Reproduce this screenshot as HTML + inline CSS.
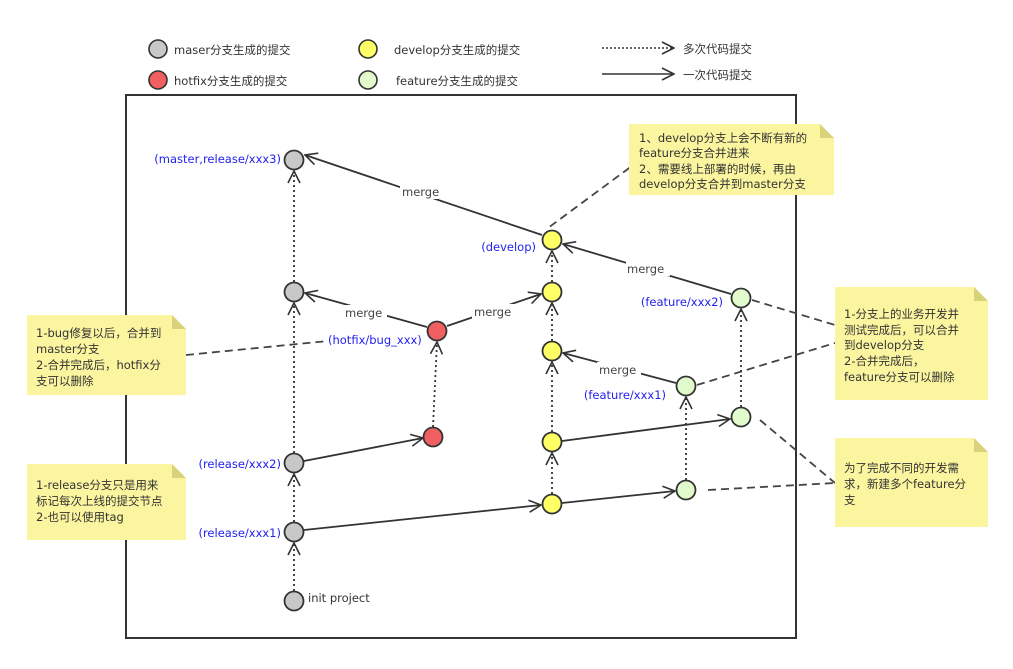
<!DOCTYPE html>
<html><head><meta charset="utf-8"><style>
body{margin:0;background:#fff;}
svg{display:block;font-family:"DejaVu Sans","Noto Sans CJK SC",sans-serif;}
.b{fill:#2222ee;font-size:11.5px;}
.t{fill:#333;font-size:11.5px;}
.m{fill:#444;font-size:11.5px;}
</style></head><body>
<svg width="1013" height="669" viewBox="0 0 1013 669">
<defs>
<marker id="a" markerWidth="14" markerHeight="14" refX="13" refY="7" orient="auto" markerUnits="userSpaceOnUse">
<path d="M1,1 L13,7 L1,13" fill="none" stroke="#333" stroke-width="1.6"/></marker>
</defs>
<circle cx="158" cy="49" r="9" fill="#c8c8c8" stroke="#333" stroke-width="1.6"/>
<circle cx="158" cy="80" r="9" fill="#f06060" stroke="#333" stroke-width="1.6"/>
<circle cx="368" cy="49" r="9" fill="#ffff66" stroke="#333" stroke-width="1.6"/>
<circle cx="368" cy="80" r="9" fill="#e2fbcc" stroke="#333" stroke-width="1.6"/>
<text x="174" y="54" class="t">maser分支生成的提交</text>
<text x="174" y="85" class="t">hotfix分支生成的提交</text>
<text x="394" y="54" class="t">develop分支生成的提交</text>
<text x="396" y="85" class="t">feature分支生成的提交</text>
<line x1="602" y1="48" x2="674" y2="48" stroke="#333" stroke-width="1.6" stroke-dasharray="2,2" marker-end="url(#a)"/>
<line x1="602" y1="74" x2="674" y2="74" stroke="#333" stroke-width="1.6" marker-end="url(#a)"/>
<text x="683" y="53" class="t">多次代码提交</text>
<text x="683" y="79" class="t">一次代码提交</text>
<rect x="126" y="95" width="670" height="543" fill="none" stroke="#333" stroke-width="2"/>
<g stroke="#444" stroke-width="1.8" stroke-dasharray="8,5" fill="none">
<line x1="186" y1="355" x2="328" y2="341"/>
<line x1="640" y1="160" x2="548" y2="228"/>
<line x1="752" y1="300" x2="835" y2="325"/>
<line x1="697" y1="385" x2="835" y2="343"/>
<line x1="760" y1="420" x2="835" y2="483"/>
<line x1="708" y1="490" x2="835" y2="483"/>
</g>
<g stroke="#333" stroke-width="1.8" stroke-dasharray="2,3" fill="none" marker-end="url(#a)">
<line x1="294" y1="591" x2="294" y2="543"/>
<line x1="294" y1="522" x2="294" y2="474"/>
<line x1="294" y1="453" x2="294" y2="303"/>
<line x1="294" y1="282" x2="294" y2="171"/>
<line x1="433" y1="427" x2="437" y2="342"/>
<line x1="552" y1="494" x2="552" y2="453"/>
<line x1="552" y1="432" x2="552" y2="362"/>
<line x1="552" y1="341" x2="552" y2="303"/>
<line x1="552" y1="282" x2="552" y2="251"/>
<line x1="686" y1="480" x2="686" y2="397"/>
<line x1="741" y1="407" x2="741" y2="309"/>
</g>
<g stroke="#333" stroke-width="1.8" fill="none" marker-end="url(#a)">
<line x1="304" y1="530" x2="541" y2="505"/>
<line x1="304" y1="461" x2="423" y2="438"/>
<line x1="427" y1="327" x2="305" y2="293"/>
<line x1="447" y1="326" x2="541" y2="294"/>
<line x1="542" y1="235" x2="305" y2="155"/>
<line x1="562" y1="441" x2="730" y2="419"/>
<line x1="562" y1="503" x2="675" y2="491"/>
<line x1="676" y1="383" x2="563" y2="353"/>
<line x1="731" y1="294" x2="563" y2="244"/>
</g>
<g class="m">
<rect x="400" y="184" width="46" height="15" fill="#fff"/><text x="402" y="196">merge</text>
<rect x="343" y="305" width="44" height="15" fill="#fff"/><text x="345" y="317">merge</text>
<rect x="472" y="304" width="44" height="15" fill="#fff"/><text x="474" y="316">merge</text>
<rect x="597" y="362" width="44" height="15" fill="#fff"/><text x="599" y="374">merge</text>
<rect x="626" y="261" width="44" height="15" fill="#fff"/><text x="627" y="273">merge</text>
</g>
<g stroke="#333" stroke-width="1.8">
<g fill="#c8c8c8"><circle cx="294" cy="160" r="9.5"/><circle cx="294" cy="292" r="9.5"/><circle cx="294" cy="463" r="9.5"/><circle cx="294" cy="532" r="9.5"/><circle cx="294" cy="601" r="9.5"/></g>
<g fill="#f06060"><circle cx="437" cy="331" r="9.5"/><circle cx="433" cy="437" r="9.5"/></g>
<g fill="#ffff66"><circle cx="552" cy="240" r="9.5"/><circle cx="552" cy="292" r="9.5"/><circle cx="552" cy="351" r="9.5"/><circle cx="552" cy="442" r="9.5"/><circle cx="552" cy="504" r="9.5"/></g>
<g fill="#e2fbcc"><circle cx="686" cy="386" r="9.5"/><circle cx="686" cy="490" r="9.5"/><circle cx="741" cy="298" r="9.5"/><circle cx="741" cy="417" r="9.5"/></g>
</g>
<g class="b">
<text x="281" y="163" text-anchor="end">(master,release/xxx3)</text>
<text x="536" y="251" text-anchor="end">(develop)</text>
<text x="328" y="344">(hotfix/bug_xxx)</text>
<text x="281" y="468" text-anchor="end">(release/xxx2)</text>
<text x="281" y="537" text-anchor="end">(release/xxx1)</text>
<text x="723" y="306" text-anchor="end">(feature/xxx2)</text>
<text x="666" y="399" text-anchor="end">(feature/xxx1)</text>
</g>
<text x="308" y="602" class="t">init project</text>
<g fill="#fbf5a0">
<path d="M27,315 H172 L186,329 V395 H27Z"/>
<path d="M27,464 H172 L186,478 V540 H27Z"/>
<path d="M629,124 H820 L834,138 V195 H629Z"/>
<path d="M835,287 H974 L988,301 V400 H835Z"/>
<path d="M835,438 H974 L988,452 V527 H835Z"/>
</g>
<g fill="#d8d27a">
<path d="M172,315 L186,329 H172Z"/><path d="M172,464 L186,478 H172Z"/><path d="M820,124 L834,138 H820Z"/><path d="M974,287 L988,301 H974Z"/><path d="M974,438 L988,452 H974Z"/>
</g>
<g class="t">
<text x="36" y="337">1-bug修复以后，合并到</text><text x="36" y="353">master分支</text><text x="36" y="369">2-合并完成后，hotfix分</text><text x="36" y="385">支可以删除</text>
<text x="36" y="489">1-release分支只是用来</text><text x="36" y="505">标记每次上线的提交节点</text><text x="36" y="521">2-也可以使用tag</text>
<text x="639" y="142">1、develop分支上会不断有新的</text><text x="639" y="157">feature分支合并进来</text><text x="639" y="173">2、需要线上部署的时候，再由</text><text x="639" y="188">develop分支合并到master分支</text>
<text x="844" y="318">1-分支上的业务开发并</text><text x="844" y="334">测试完成后，可以合并</text><text x="844" y="349">到develop分支</text><text x="844" y="365">2-合并完成后，</text><text x="844" y="381">feature分支可以删除</text>
<text x="844" y="472">为了完成不同的开发需</text><text x="844" y="488">求，新建多个feature分</text><text x="844" y="504">支</text>
</g>
</svg>
</body></html>
